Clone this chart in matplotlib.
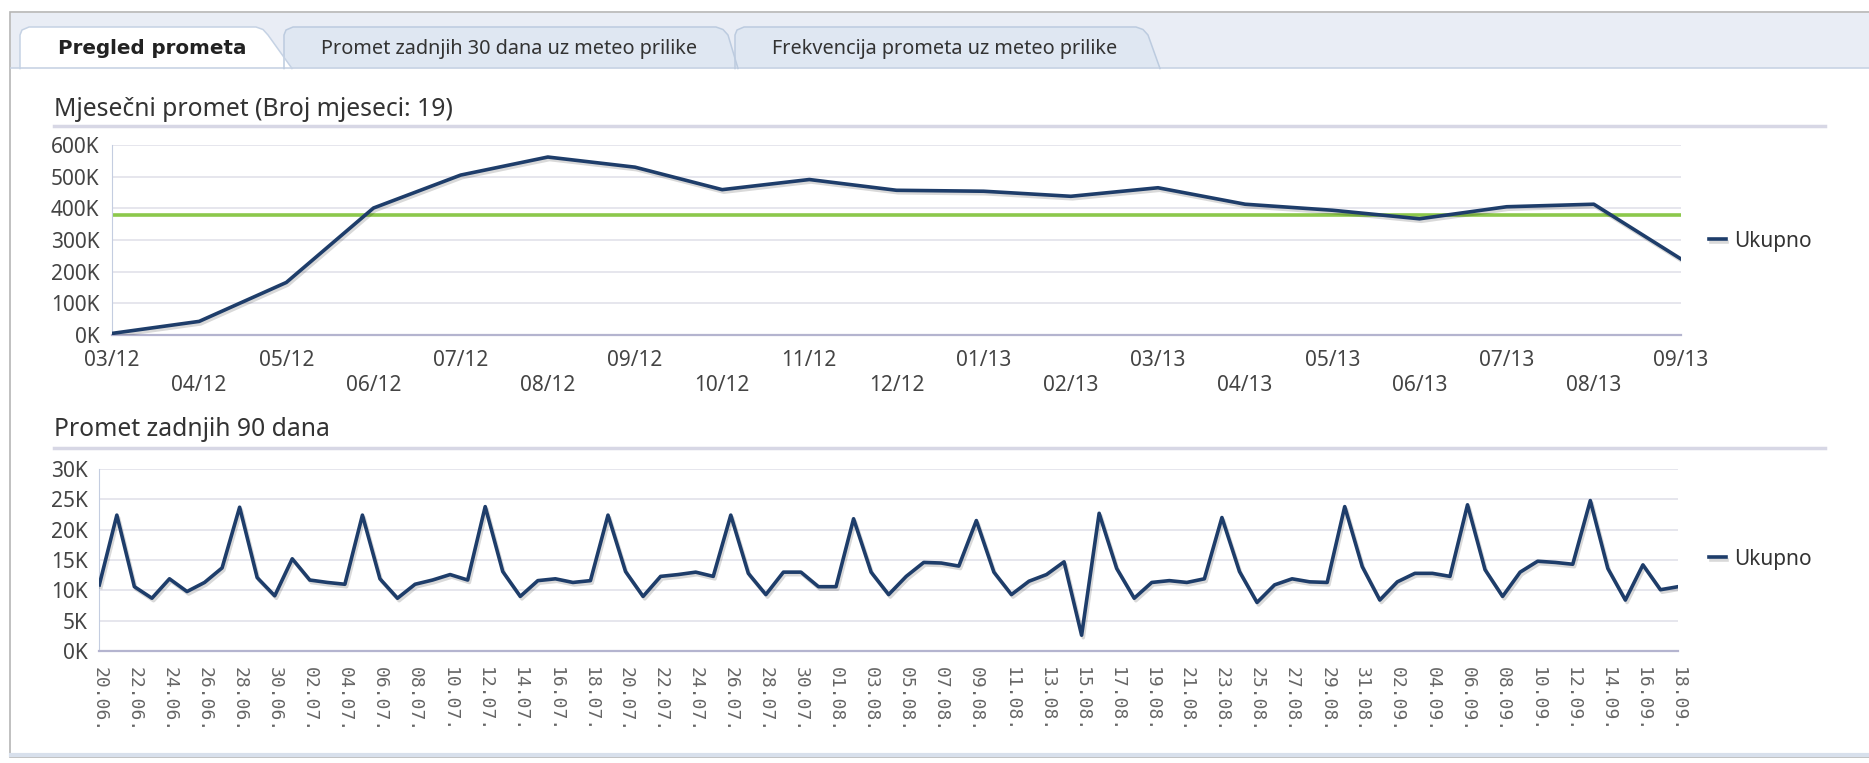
import numpy as np
import pandas as pd
import matplotlib
matplotlib.use('Agg')
import matplotlib.pyplot as plt
from matplotlib.patches import Rectangle, Polygon
from matplotlib.ticker import FuncFormatter
import matplotlib.patheffects as pe

plt.rcParams['font.family'] = ['Noto Sans', 'DejaVu Sans']

W, H = 1869, 763

## Podaci
mjeseci = ['03/12', '04/12', '05/12', '06/12', '07/12', '08/12', '09/12', '10/12',
           '11/12', '12/12', '01/13', '02/13', '03/13', '04/13', '05/13', '06/13',
           '07/13', '08/13', '09/13']
mjesecni_promet = [5000, 43000, 166000, 401000, 505000, 562000, 530000, 459000,
                   491000, 457000, 454000, 438000, 465000, 413000, 394000, 367000,
                   405000, 413000, 240000]

dani = pd.date_range('2013-06-20', '2013-09-18')
dnevni_promet = [10900, 22400, 10600, 8700, 11900, 9800, 11300, 13700, 23700, 12100,
                 9100, 15200, 11700, 11300, 11000, 22400, 11900, 8700, 11000, 11700,
                 12600, 11700, 23800, 13100, 9000, 11600, 11900, 11300, 11600, 22400,
                 13100, 9000, 12300, 12600, 13000, 12300, 22400, 12800, 9300, 13000,
                 13000, 10600, 10600, 21800, 13000, 9300, 12300, 14600, 14500, 14000,
                 21500, 13000, 9300, 11500, 12600, 14700, 2600, 22700, 13600, 8700,
                 11300, 11600, 11300, 11900, 22000, 13100, 8000, 10900, 11900, 11400,
                 11300, 23800, 13900, 8400, 11400, 12800, 12800, 12300, 24100, 13400,
                 9000, 13000, 14800, 14600, 14300, 24800, 13600, 8400, 14200, 10100,
                 10600]

navy = '#1e3d6a'
zelena = '#8cc84b'

## Figura
fig = plt.figure(figsize=(W / 100, H / 100), dpi=100)
bg = fig.add_axes([0, 0, 1, 1])
bg.set_xlim(0, W)
bg.set_ylim(H, 0)
bg.axis('off')

# okvir i traka s karticama
bg.add_patch(Rectangle((9.5, 12), W, 745, facecolor='white', edgecolor='#b5b5b5', lw=1.2))
bg.add_patch(Rectangle((10.5, 12.8), W, 55.5, facecolor='#e9edf5', edgecolor='none'))
bg.plot([10.5, W], [68, 68], color='#c8d3e4', lw=1.2)
bg.plot([10.5, W], [755, 755], color='#d8e0ec', lw=3)


def kartica(x0, x1, x2, fc, ec):
    pts = [(x0, 68.5), (x0, 35), (x0 + 2, 30), (x0 + 9, 27), (x1, 27),
           (x1 + 7, 29.5), (x1 + 12, 35), (x2, 68.5)]
    bg.add_patch(Polygon(pts, closed=True, facecolor=fc, edgecolor='none'))
    xs, ys = zip(*pts)
    bg.plot(xs, ys, color=ec, lw=1.1)


kartica(735, 1136, 1160, '#dfe7f2', '#bccbdf')
kartica(284, 716, 738, '#dfe7f2', '#bccbdf')
kartica(20, 256, 292, 'white', '#c5d2e4')

bg.text(152, 49, 'Pregled prometa', ha='center', va='center', fontsize=14.3,
        fontweight='bold', family='DejaVu Sans', color='#222222')
bg.text(509, 49, 'Promet zadnjih 30 dana uz meteo prilike', ha='center', va='center',
        fontsize=14.3, color='#333333')
bg.text(945, 49, 'Frekvencija prometa uz meteo prilike', ha='center', va='center',
        fontsize=14.3, color='#333333')

bg.text(54, 110, 'Mjesečni promet (Broj mjeseci: 19)', ha='left', va='center',
        fontsize=17.8, color='#333333')
bg.plot([54, 1825], [126, 126], color='#d7d7e5', lw=2.5)
bg.text(54, 430, 'Promet zadnjih 90 dana', ha='left', va='center',
        fontsize=17.8, color='#333333')
bg.plot([54, 1825], [448, 448], color='#d7d7e5', lw=2.5)


def px_axes(l, t, r, b):
    return fig.add_axes([l / W, 1 - b / H, (r - l) / W, (b - t) / H])


def stil(ax):
    ax.set_facecolor('none')
    for s in ['top', 'right']:
        ax.spines[s].set_visible(False)
    ax.spines['left'].set_color('#c4cde0')
    ax.spines['bottom'].set_color('#b4b4cf')
    ax.spines['bottom'].set_linewidth(1.6)
    ax.grid(axis='y', color='#e2e2ea', lw=1.2)
    ax.set_axisbelow(True)
    ax.tick_params(length=0, labelcolor='#444444', labelsize=15)
    ax.yaxis.set_major_formatter(FuncFormatter(lambda v, p: f'{int(v / 1000)}K'))


sjena = [pe.SimpleLineShadow(offset=(1.2, -1.8), shadow_color='#000000', alpha=0.15),
         pe.Normal()]

# Mjesecni promet
ax1 = px_axes(112, 145, 1681, 335)
stil(ax1)
x1 = np.arange(len(mjeseci))
ax1.axhline(np.mean(mjesecni_promet), color=zelena, lw=2.6, zorder=2)
l1, = ax1.plot(x1, mjesecni_promet, color=navy, lw=2.6, solid_joinstyle='round',
               path_effects=sjena, label='Ukupno', zorder=3)
ax1.set_xlim(0, len(mjeseci) - 1)
ax1.set_ylim(0, 600000)
ax1.set_yticks(np.arange(0, 600001, 100000))
ax1.set_xticks(x1)
ax1.set_xticklabels(mjeseci)
ax1.tick_params(axis='y', pad=9)
for i, t in enumerate(ax1.xaxis.get_major_ticks()):
    t.set_pad(10.5 if i % 2 == 0 else 28.5)

# Promet zadnjih 90 dana
ax2 = px_axes(99.3, 469, 1678, 651)
stil(ax2)
x2 = np.arange(len(dani))
l2, = ax2.plot(x2, dnevni_promet, color=navy, lw=2.6, solid_joinstyle='round',
               path_effects=sjena, label='Ukupno', zorder=3)
ax2.set_xlim(0, len(dani) - 1)
ax2.set_ylim(0, 30000)
ax2.set_yticks(np.arange(0, 30001, 5000))
ax2.set_xticks(x2[::2])
ax2.set_xticklabels([d.strftime('%d.%m.') for d in dani[::2]], rotation=-90,
                    fontfamily='DejaVu Sans Mono', fontsize=13, color='#666666')
ax2.tick_params(axis='y', pad=8.5)
ax2.tick_params(axis='x', pad=11.5)

for ax, yy in [(ax1, 241), (ax2, 559)]:
    leg = ax.legend(loc='center left', bbox_to_anchor=(1709 / W, 1 - yy / H),
                    bbox_transform=fig.transFigure, frameon=False, handlelength=0.8,
                    handletextpad=0.4, fontsize=15, borderpad=0, borderaxespad=0)
    for txt in leg.get_texts():
        txt.set_color('#333333')

fig.savefig('out.png', dpi=100)
